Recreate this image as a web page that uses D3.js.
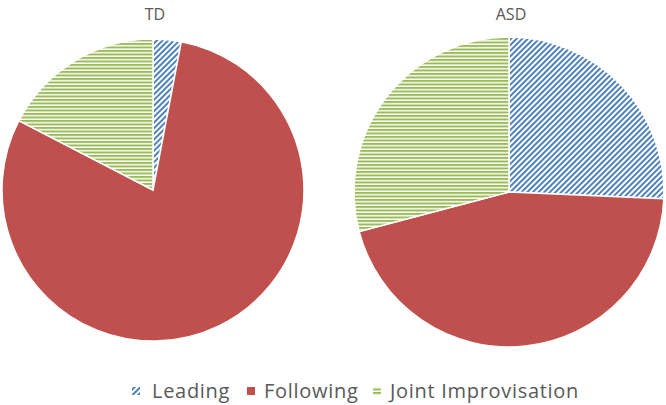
<!DOCTYPE html>
<html><head><meta charset="utf-8">
<script src="https://cdn.jsdelivr.net/npm/d3@7"></script>
<style>body{margin:0;background:#fff}svg{display:block}</style>
</head><body>
<svg id="chart" width="666" height="405"></svg>
<script>
const categories = ["Leading", "Following", "Joint Improvisation"];
const groups = ["TD", "ASD"];
const tdValues = [3.0, 79.6, 17.4];
const asdValues = [25.7, 45.2, 29.1];
const colors = ["#4F81BD", "#C0504D", "#9BBB59"];

const svg = d3.select("#chart");
const defs = svg.append("defs");
const diag = defs.append("pattern").attr("id","pLead").attr("patternUnits","userSpaceOnUse")
  .attr("width",4).attr("height",4).attr("patternTransform","rotate(45)");
diag.append("rect").attr("width",4).attr("height",4).attr("fill","#fff");
diag.append("rect").attr("width",2).attr("height",4).attr("fill",colors[0]);
const horiz = defs.append("pattern").attr("id","pJoint").attr("patternUnits","userSpaceOnUse")
  .attr("width",4).attr("height",3.5);
horiz.append("rect").attr("width",4).attr("height",3.5).attr("fill","#fff");
horiz.append("rect").attr("width",4).attr("height",2).attr("fill",colors[2]);
const fills = ["url(#pLead)", colors[1], "url(#pJoint)"];

const pies = [
  {name: groups[0], values: tdValues, cx: 153, cy: 190, r: 151},
  {name: groups[1], values: asdValues, cx: 509, cy: 192, r: 155}
];
const pie = d3.pie().sort(null).value(d => d);
pies.forEach(p => {
  const g = svg.append("g").attr("transform", `translate(${p.cx},${p.cy})`);
  const arc = d3.arc().innerRadius(0).outerRadius(p.r);
  g.selectAll("path").data(pie(p.values)).join("path")
    .attr("d", arc).attr("fill", (d,i) => fills[i])
    .attr("stroke", "#fff").attr("stroke-width", 1.5);
  svg.append("text").attr("x", p.cx + 2).attr("y", 20).attr("text-anchor","middle")
    .attr("font-family","'Open Sans', sans-serif").attr("font-size",16).attr("fill","#595959")
    .text(p.name);
});

const legendX = [132, 247, 373];
const lg = svg.append("g");
categories.forEach((c,i) => {
  lg.append("rect").attr("x", legendX[i]).attr("y", 387).attr("width", 8).attr("height", 8)
    .attr("fill", fills[i]);
  lg.append("text").attr("x", legendX[i] + (i===0?20:17)).attr("y", 398)
    .attr("font-family","'Open Sans', sans-serif").attr("font-size",20)
    .attr("letter-spacing", 0.7).attr("fill","#595959")
    .text(c);
});
</script>
</body></html>
